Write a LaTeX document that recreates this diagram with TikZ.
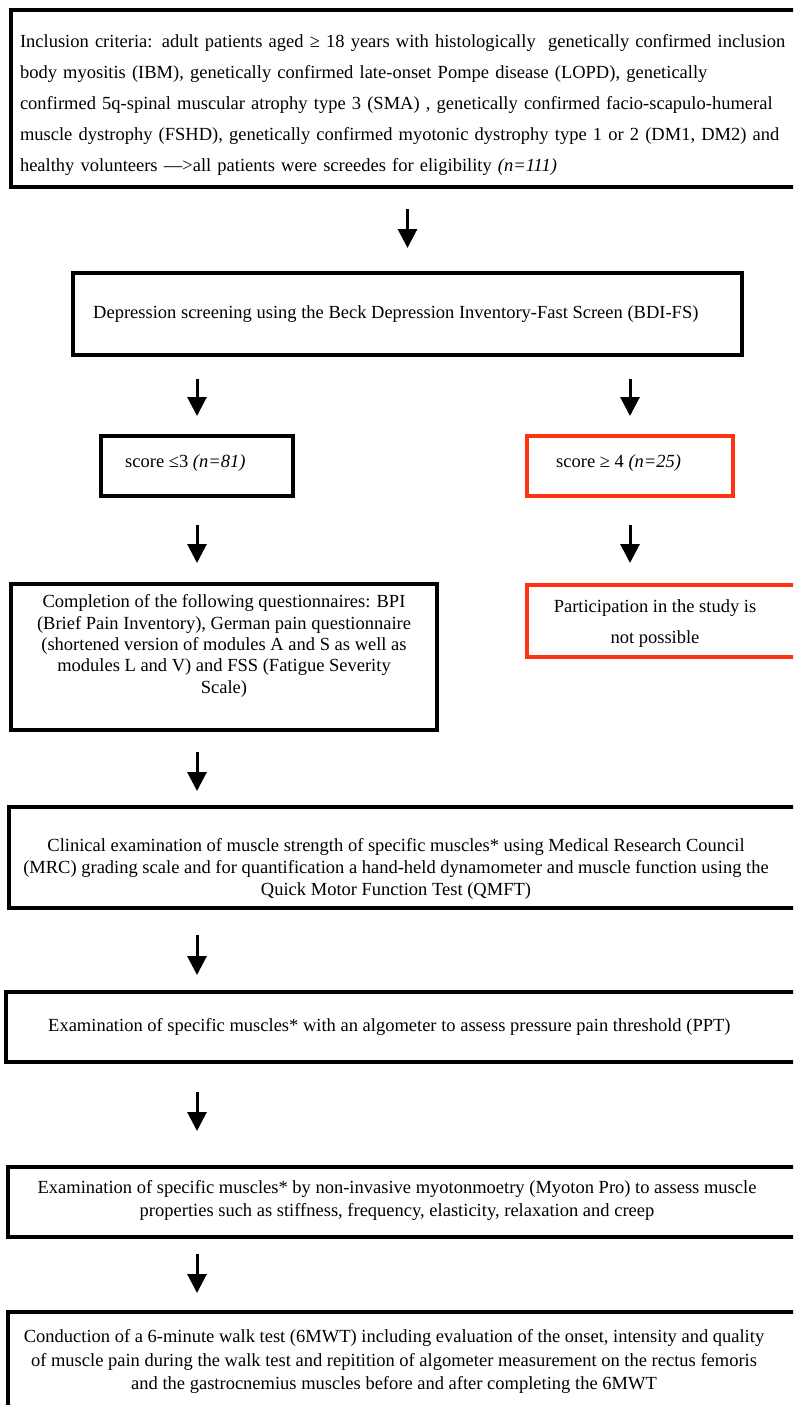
\documentclass[tikz,border=0pt]{standalone}
\usepackage{fontspec}
\setmainfont{Liberation Serif}
\usetikzlibrary{arrows.meta}
\definecolor{boxred}{HTML}{FF3311}
\begin{document}
\begin{tikzpicture}[x=1pt,y=-1pt,
  box/.style={draw=black, line width=4pt, rectangle, inner sep=0pt},
  redbox/.style={box, draw=boxred},
  txt/.style={inner sep=0pt, font=\fontsize{18.5}{22}\selectfont},
  arr/.style={-{Triangle[length=19pt,width=19pt]}, line width=3pt}]
\useasboundingbox (0,0) rectangle (793,1405);
\clip (0,0) rectangle (793,1405);

% boxes
\node[box, minimum width=789pt, minimum height=177pt] (b1) at (405.5,98.5) {};
\node[box, minimum width=669pt, minimum height=82pt] (b2) at (407.5,314) {};
\node[box, minimum width=192pt, minimum height=60pt] (b3) at (197,466) {};
\node[redbox, minimum width=206pt, minimum height=60pt] (b4) at (630,466) {};
\node[box, minimum width=426pt, minimum height=146pt] (b5) at (224,657) {};
\node[redbox, minimum width=273pt, minimum height=72pt] (b10) at (663.5,621) {};
\node[box, minimum width=791pt, minimum height=101pt] (b6) at (404.5,857.5) {};
\node[box, minimum width=794pt, minimum height=70pt] (b7) at (403,1027) {};
\node[box, minimum width=792pt, minimum height=70pt] (b8) at (404,1202) {};
\node[box, minimum width=792pt, minimum height=108pt] (b9) at (404,1366) {};

% texts
\node[txt, text width=750pt, align=left, font=\fontsize{18.5}{31}\selectfont] (t1) at (395,105) {%
\makebox[750pt][s]{Inclusion criteria: adult patients aged ≥ 18 years with histologically~ genetically confirmed inclusion}\\
\makebox[750pt][s]{body myositis (IBM), genetically confirmed late-onset Pompe disease (LOPD), genetically}\\
\makebox[750pt][s]{confirmed 5q-spinal muscular atrophy type 3 (SMA) , genetically confirmed facio-scapulo-humeral}\\
\makebox[750pt][s]{muscle dystrophy (FSHD), genetically confirmed myotonic dystrophy type 1 or 2 (DM1, DM2) and}\\
healthy volunteers —>all patients were screedes for eligibility \textit{(n=111)}};
\node[txt, anchor=west] (t2) at (93,314) {Depression screening using the Beck Depression Inventory-Fast Screen (BDI-FS)};
\node[txt, anchor=west] (t3) at (125,463) {score ≤3 \textit{(n=81)}};
\node[txt, anchor=west] (t4) at (556,463) {score ≥ 4 \textit{(n=25)}};
\node[txt, align=center, font=\fontsize{18.5}{21.3}\selectfont] (t5) at (224,646) {Completion of the following questionnaires: BPI\\
(Brief Pain Inventory), German pain questionnaire\\
(shortened version of modules A and S as well as\\
modules L and V) and FSS (Fatigue Severity\\
Scale)};
\node[txt, align=center, font=\fontsize{18.5}{31}\selectfont] (t10) at (655,623.5) {Participation in the study is\\ not possible};
\node[txt, align=center, font=\fontsize{18.5}{22}\selectfont] (t6) at (396,869) {Clinical examination of muscle strength of specific muscles* using Medical Research Council\\
(MRC) grading scale and for quantification a hand-held dynamometer and muscle function using the\\
Quick Motor Function Test (QMFT)};
\node[txt, anchor=west] (t7) at (48,1027) {Examination of specific muscles* with an algometer to assess pressure pain threshold (PPT)};
\node[txt, align=center, font=\fontsize{18.5}{23}\selectfont] (t8) at (397,1200.5) {Examination of specific muscles* by non-invasive myotonmoetry (Myoton Pro) to assess muscle\\
properties such as stiffness, frequency, elasticity, relaxation and creep};
\node[txt, align=center, font=\fontsize{18.5}{23.5}\selectfont] (t9) at (394,1361.5) {Conduction of a 6-minute walk test (6MWT) including evaluation of the onset, intensity and quality\\
of muscle pain during the walk test and repitition of algometer measurement on the rectus femoris\\
and the gastrocnemius muscles before and after completing the 6MWT};

% arrows
\draw[arr] ([yshift=-20pt]b1.south -| b2.north) -- ([yshift=23pt]b2.north);
\draw[arr] ([yshift=-22pt]b2.south -| b3.north) -- ([yshift=18pt]b3.north);
\draw[arr] ([yshift=-22pt]b2.south -| b4.north) -- ([yshift=18pt]b4.north);
\draw[arr] ([yshift=-27pt]b3.south) -- ([yshift=19pt]b5.north -| b3.south);
\draw[arr] ([yshift=-27pt]b4.south) -- ([yshift=20pt]b10.north -| b4.south);
\draw[arr] ([yshift=-20pt]b5.south -| b3.south) -- ([yshift=14pt]b6.north -| b3.south);
\draw[arr] ([yshift=-25pt]b6.south -| b3.south) -- ([yshift=15pt]b7.north -| b3.south);
\draw[arr] ([yshift=-28pt]b7.south -| b3.south) -- ([yshift=34pt]b8.north -| b3.south);
\draw[arr] ([yshift=-15pt]b8.south -| b3.south) -- ([yshift=17pt]b9.north -| b3.south);
\end{tikzpicture}
\end{document}
